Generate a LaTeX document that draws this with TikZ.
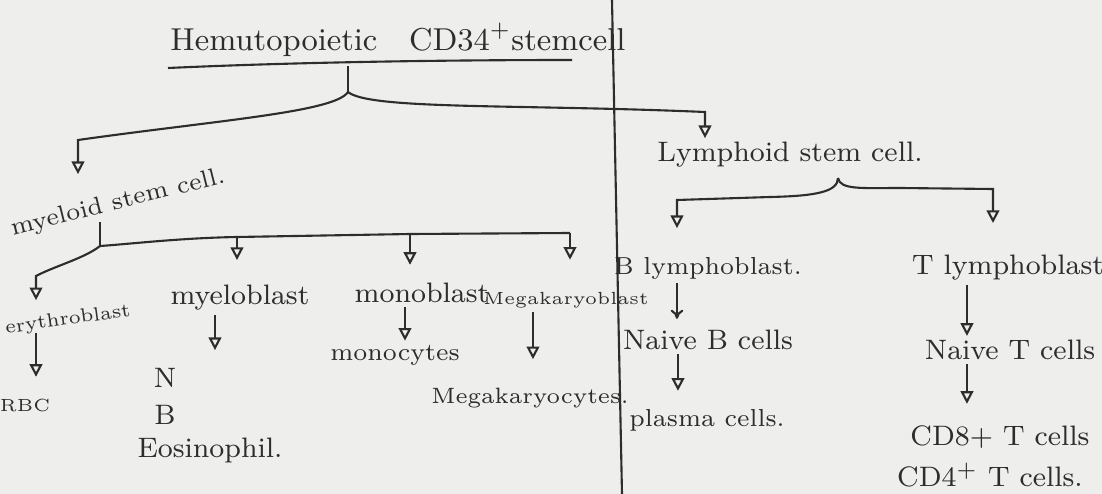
\documentclass[tikz,border=0pt]{standalone}
\usetikzlibrary{arrows.meta}
\definecolor{ink}{RGB}{45,45,45}
\definecolor{paper}{RGB}{238,238,236}

\begin{document}
\begin{tikzpicture}[
    x=0.01cm, y=-0.01cm,
    lbl/.style={text=ink, inner sep=1pt, font=\fontsize{8}{10}\selectfont},
    sml/.style={lbl, font=\fontsize{5.5}{7}\selectfont},
    mid/.style={lbl, font=\fontsize{7}{9}\selectfont},
    pen/.style={draw=ink, line width=0.6pt},
    arr/.style={pen, -{Triangle[open, length=3.6pt, width=3.6pt]}},
    barb/.style={pen, -{To[length=2.6pt, width=3.6pt]}}
]
    \useasboundingbox (0,0) rectangle (1102,494);
    \fill[paper] (0,0) rectangle (1102,494);

    % Page divider
    \coordinate (d1) at (612,0);
    \coordinate (d2) at (622,494);
    \draw[pen] (d1) -- (d2);

    % Stem cell
    \node[lbl, font=\fontsize{9}{11}\selectfont] (hsc) at (398,40)
        {Hemutopoietic\quad CD34$^{+}$stemcell};
    \coordinate (u1) at (168,68);
    \coordinate (u2) at (572,60);
    \draw[pen] (u1) .. controls (300,62) and (450,60) .. (u2);

    % Myeloid and lymphoid stem cells
    \node[mid, rotate=14] (myl) at (118,203) {myeloid stem cell.};
    \node[lbl] (lym) at (790,155) {Lymphoid stem cell.};

    \coordinate (j0) at (348,66);
    \coordinate (j1) at (348,92);
    \coordinate (ml) at (78,140);
    \coordinate (mr) at (705,112);
    \draw[pen] (j0) -- (j1);
    \draw[arr, shorten >=4pt] (j1) .. controls (335,112) and (220,120) .. (ml)
        -- (ml |- myl.north);
    \draw[arr] (j1) .. controls (370,110) and (520,104) .. (mr)
        -- (mr |- lym.north);

    % Myeloid line
    \node[sml, rotate=8] (ery) at (68,320) {erythroblast};
    \node[lbl] (myb) at (240,298) {myeloblast};
    \node[lbl] (mob) at (422,293) {monoblast};
    \node[sml, font=\fontsize{5}{6}\selectfont] (mgb) at (566,300) {Megakaryoblast};

    \coordinate (mj0) at (100,222);
    \coordinate (mj1) at (100,246);
    \coordinate (el) at (36,276);
    \coordinate (s1) at (237,237);
    \coordinate (s2) at (410,234);
    \coordinate (s3) at (570,233);
    \draw[pen] (mj0) -- (mj1);
    \draw[arr, shorten >=2pt] (mj1) .. controls (85,258) and (55,266) .. (el)
        -- (el |- ery.north);
    \draw[pen] (mj1) .. controls (130,244) and (180,238) .. (s1) -- (s2) -- (s3);
    \draw[arr, shorten >=6pt] (s1) -- (s1 |- myb.north);
    \draw[arr, shorten >=4pt] (s2) -- (s2 |- mob.north);
    \draw[arr, shorten >=8pt] (s3) -- (s3 |- mgb.north);

    % Myeloid cells
    \node[sml, font=\fontsize{5}{6}\selectfont] (rbc) at (25,405) {RBC};
    \node[lbl] (nn) at (165,378) {N};
    \node[lbl] (bb) at (165,415) {B};
    \node[lbl] (eos) at (210,450) {Eosinophil.};
    \node[mid] (moc) at (395,355) {monocytes};
    \node[lbl, font=\fontsize{6.3}{8}\selectfont] (mgc) at (530,398) {Megakaryocytes.};

    \draw[arr, shorten >=5pt] (ery.south -| el) -- (rbc.north -| el);
    \coordinate (mya) at ([xshift=-2.5mm]myb.south);
    \draw[arr, shorten >=4pt] (mya) -- (mya |- nn.north);
    \coordinate (moa) at ([xshift=-1.7mm]mob.south);
    \draw[arr] (moa) -- (moa |- moc.north);
    \coordinate (mga) at ([xshift=-3.3mm]mgb.south);
    \draw[arr, shorten >=7pt] (mga) -- (mga |- mgc.north);

    % Lymphoid line
    \node[mid] (bly) at (708,268) {B lymphoblast.};
    \node[lbl] (tly) at (1008,268) {T lymphoblast};

    \coordinate (lt) at (838,178);
    \coordinate (ll) at (677,200);
    \coordinate (lr) at (993,189);
    \draw[arr, shorten >=7pt] (lt) .. controls (838,192) and (815,196) .. (770,197)
        -- (ll) -- (ll |- bly.north);
    \draw[arr, shorten >=8pt] (lt) .. controls (840,190) and (862,188) .. (900,188)
        -- (lr) -- (lr |- tly.north);

    % Lymphoid cells
    \node[lbl] (nbc) at (708,340) {Naive B cells};
    \node[mid] (pls) at (707,420) {plasma cells.};
    \node[lbl] (ntc) at (1010,350) {Naive T cells};
    \node[lbl] (cd8) at (1000,437) {CD8+ T cells};
    \node[lbl] (cd4) at (990,475) {CD4$^{+}$ T cells.};

    \coordinate (bla) at ([xshift=-3.1mm]bly.south);
    \draw[barb, shorten >=2pt] (bla) -- (bla |- nbc.north);
    \coordinate (nba) at ([xshift=-3mm]nbc.south);
    \draw[arr, shorten >=4pt] (nba) -- (nba |- pls.north);
    \coordinate (tla) at ([xshift=-4.1mm]tly.south);
    \draw[arr] (tla) -- (tla |- ntc.north);
    \coordinate (nta) at ([xshift=-4.3mm]ntc.south);
    \draw[arr, shorten >=5pt] (nta) -- (nta |- cd8.north);

\end{tikzpicture}
\end{document}
